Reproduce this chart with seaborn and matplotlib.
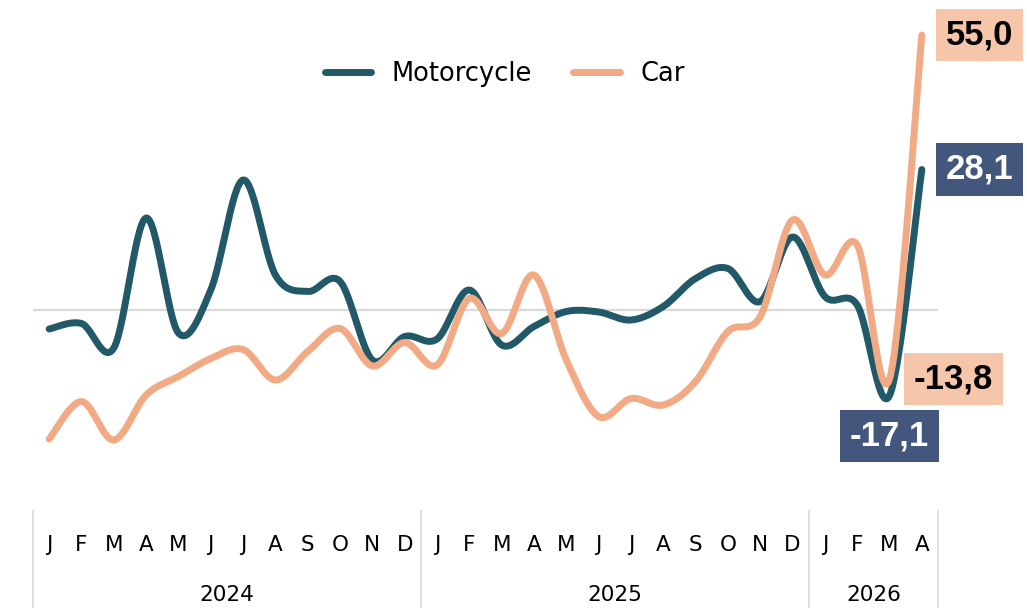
import numpy as np
import pandas as pd
import seaborn as sns
import matplotlib.pyplot as plt
from matplotlib.lines import Line2D
from matplotlib.transforms import blended_transform_factory

# monthly values, Jan 2024 - Apr 2026
months = ["J", "F", "M", "A", "M", "J", "J", "A", "S", "O", "N", "D"] * 2 + ["J", "F", "M", "A"]
years = ["2024", "2025", "2026"]
year_centers = [5.5, 17.5, 25.5]
year_breaks = [-0.5, 11.5, 23.5, 27.5]

motorcycle = [-3.8, -2.7, -7.6, 18.4, -4.6, 4.0, 26.0, 7.0, 3.7, 5.7, -10.0, -5.3,
              -5.8, 4.0, -7.0, -3.3, -0.3, -0.4, -2.0, 0.7, 6.3, 8.3, 1.7, 14.6,
              2.7, 1.0, -17.1, 28.1]
car = [-25.8, -18.3, -26.0, -17.0, -13.3, -9.7, -7.9, -14.0, -8.3, -3.7, -11.2, -6.5,
       -11.0, 2.3, -4.7, 7.0, -10.0, -21.3, -17.7, -19.0, -14.3, -4.3, -1.3, 18.0,
       7.0, 13.0, -13.8, 55.0]

DARK = "#225969"
LIGHT = "#F1AA84"
DARK_BOX = "#43567C"
LIGHT_BOX = "#F6C6AB"
GREY = "#D9D9D9"


def smooth(x, y, n=30):
    """Bezier smoothing like a spreadsheet 'smoothed line' (curve passes through points)."""
    x = np.asarray(x, float)
    y = np.asarray(y, float)
    px = np.r_[x[0], x, x[-1]]
    py = np.r_[y[0], y, y[-1]]
    t = np.linspace(0, 1, n, endpoint=False)
    out_x, out_y = [], []
    for i in range(len(x) - 1):
        for p, out in ((px, out_x), (py, out_y)):
            p0, p1, p2, p3 = p[i:i + 4]
            c1 = p1 + (p2 - p0) / 6
            c2 = p2 - (p3 - p1) / 6
            out.append((1 - t) ** 3 * p1 + 3 * (1 - t) ** 2 * t * c1
                       + 3 * (1 - t) * t ** 2 * c2 + t ** 3 * p2)
    return np.r_[np.concatenate(out_x), x[-1]], np.r_[np.concatenate(out_y), y[-1]]


idx = np.arange(len(months))
frames = []
for name, vals in (("Motorcycle", motorcycle), ("Car", car)):
    sx, sy = smooth(idx, vals)
    frames.append(pd.DataFrame({"x": sx, "y": sy, "series": name}))
df = pd.concat(frames, ignore_index=True)

sns.set_theme(style="white")
plt.rcParams["font.family"] = ["DejaVu Sans"]

fig = plt.figure(figsize=(10.27, 6.08), dpi=100)
ax = fig.add_axes([33 / 1027, 108 / 608, 905 / 1027, 480 / 608])

ax.axhline(0, color=GREY, lw=1.6, zorder=1)
sns.lineplot(data=df, x="x", y="y", hue="series", palette={"Motorcycle": DARK, "Car": LIGHT},
             hue_order=["Motorcycle", "Car"], linewidth=5, sort=False, estimator=None,
             legend=False, ax=ax, zorder=3)
for ln in ax.lines[1:]:
    ln.set_solid_capstyle("round")

ax.set_xlim(-0.5, 27.5)
ax.set_ylim(-38, 58)
ax.set_xlabel("")
ax.set_ylabel("")
ax.set_xticks([])
ax.set_yticks([])
sns.despine(ax=ax, left=True, bottom=True)

# category axis: months, years, separators
tr = blended_transform_factory(ax.transData, ax.transAxes)
for i, m in enumerate(months):
    ax.text(i, -0.094, m, transform=tr, ha="center", va="center", fontsize=15.5, color="black")
for c, yr in zip(year_centers, years):
    ax.text(c, -0.198, yr, transform=tr, ha="center", va="center", fontsize=15.5, color="black")
ax.vlines(year_breaks, -0.225, -0.021, transform=tr, colors=GREY, lw=1.2, clip_on=False)

# data labels for the last two months
lab = dict(fontsize=25, fontweight="bold", family="Liberation Sans", zorder=5)
box = "square,pad=0.28"
off = 24 / 32.32
ax.text(27 + off, car[-1], "55,0", ha="left", va="center", color="black",
        bbox=dict(boxstyle=box, fc=LIGHT_BOX, ec="none"), **lab)
ax.text(27 + off, motorcycle[-1], "28,1", ha="left", va="center", color="white",
        bbox=dict(boxstyle=box, fc=DARK_BOX, ec="none"), **lab)
ax.text(26 + off, car[-2], "-13,8", ha="left", va="center", color="black",
        bbox=dict(boxstyle=box, fc=LIGHT_BOX, ec="none"), **lab)
ax.text(26, motorcycle[-2] - 8.1, "-17,1", ha="center", va="center", color="white",
        bbox=dict(boxstyle=box, fc=DARK_BOX, ec="none"), **lab)

handles = [Line2D([], [], color=DARK, lw=5, solid_capstyle="round"),
           Line2D([], [], color=LIGHT, lw=5, solid_capstyle="round")]
fig.legend(handles, ["Motorcycle", "Car"], loc="center left", ncol=2,
           bbox_to_anchor=(325 / 1027, 1 - 74 / 608), frameon=False, fontsize=18.5,
           handlelength=1.8, handletextpad=0.8, columnspacing=1.6,
           borderpad=0, borderaxespad=0, labelcolor="black")

fig.savefig("out.png", dpi=100)
